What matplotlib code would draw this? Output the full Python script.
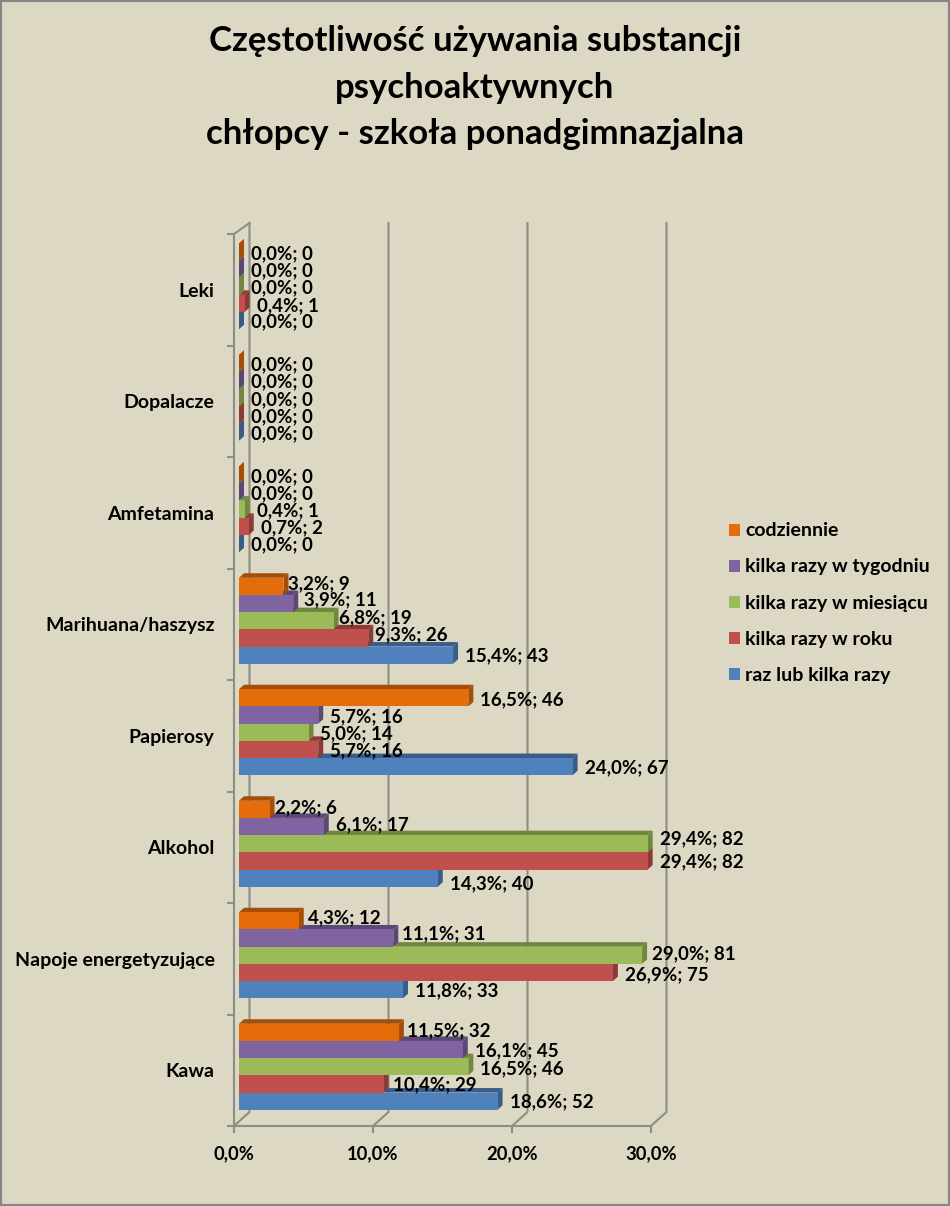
import numpy as np
import matplotlib
matplotlib.use('Agg')
import matplotlib.pyplot as plt
from matplotlib.colors import to_rgb
from matplotlib.patches import Rectangle

categories = ['Kawa', 'Napoje energetyzujące', 'Alkohol', 'Papierosy',
              'Marihuana/haszysz', 'Amfetamina', 'Dopalacze', 'Leki']
series_names = ['raz lub kilka razy', 'kilka razy w roku', 'kilka razy w miesiącu',
                'kilka razy w tygodniu', 'codziennie']
raz_pct = [18.6, 11.8, 14.3, 24.0, 15.4, 0.0, 0.0, 0.0]
raz_n = [52, 33, 40, 67, 43, 0, 0, 0]
rok_pct = [10.4, 26.9, 29.4, 5.7, 9.3, 0.7, 0.0, 0.4]
rok_n = [29, 75, 82, 16, 26, 2, 0, 1]
mies_pct = [16.5, 29.0, 29.4, 5.0, 6.8, 0.4, 0.0, 0.0]
mies_n = [46, 81, 82, 14, 19, 1, 0, 0]
tydz_pct = [16.1, 11.1, 6.1, 5.7, 3.9, 0.0, 0.0, 0.0]
tydz_n = [45, 31, 17, 16, 11, 0, 0, 0]
codz_pct = [11.5, 4.3, 2.2, 16.5, 3.2, 0.0, 0.0, 0.0]
codz_n = [32, 12, 6, 46, 9, 0, 0, 0]
colors = ['#4F81BD', '#C0504D', '#9BBB59', '#8064A2', '#E46C0A']
x_ticks = [0, 10, 20, 30]

pct = [raz_pct, rok_pct, mies_pct, tydz_pct, codz_pct]
counts = [raz_n, rok_n, mies_n, tydz_n, codz_n]

# label nudges in pixels, the original moved some labels apart
label_dx = [[7, 7, 7, 7, 7, 7, 7, 7],
            [4, 7, 7, 7, 2, 7, 7, 7],
            [7, 5, 7, 7, 0, 7, 7, 7],
            [7, 4, 7, 7, 6, 7, 7, 7],
            [3, 4, 0, 7, 0, 7, 7, 7]]
label_dy = [[-1, -1, -6, -1.5, -1, -1.5, -1.5, -1.5],
            [-1, -2, -1, -1.5, 3, -1.5, -1.5, -2],
            [-2, 2, 5, -1.5, 3, -1.5, -1.5, -2],
            [-1, 4, 2, -1.5, 4, -1.5, -1.5, -2],
            [2, 3, 2, -1.5, 3, -1.5, -1.5, -2]]

plt.rcParams['font.family'] = ['Lato', 'DejaVu Sans']
plt.rcParams['font.weight'] = 'bold'

BG = '#DDD8C3'
GREY = '#8E8E88'

fig = plt.figure(figsize=(9.5, 12.06), dpi=100, facecolor=BG)
fig.add_artist(Rectangle((0, 0), 1, 1, transform=fig.transFigure, fill=False,
                         edgecolor='#868686', linewidth=3, clip_on=True))

ax = fig.add_axes([234 / 950, (1206 - 1126) / 1206, (651 - 234) / 950, (1126 - 234) / 1206])
ax.set_facecolor('none')

# pixels to data units
px_x = 30 / (651 - 234)
px_y = 8 / (1126 - 234)

# walls
wall_dx = 15.5 * px_x
wall_dy = 14 * px_y
top_dy = 11 * px_y
for x in x_ticks:
    ax.plot([x, x + wall_dx, x + wall_dx], [0, wall_dy, 8 + top_dy], color=GREY, lw=1.5,
            clip_on=False, zorder=1)
ax.plot([0, wall_dx], [8, 8 + top_dy], color=GREY, lw=1.5, clip_on=False, zorder=1)

# bars, bottom series first so the upper bar covers the top face of the one below
bar_h = 17.2 * px_y
left = 5 * px_x
shift = 3.5 * px_y
depth_x = 5 * px_x
depth_y = 4.5 * px_y
y_base = np.arange(len(categories)) + 0.5 + shift

for j in range(len(series_names)):
    y = y_base + (j - 2) * bar_h
    vals = np.array(pct[j])
    dark = tuple(c * 0.72 for c in to_rgb(colors[j]))
    for i in range(len(categories)):
        x1 = left + vals[i]
        y0, y1 = y[i] - bar_h / 2, y[i] + bar_h / 2
        ax.fill([left, x1, x1 + depth_x, left + depth_x],
                [y1, y1, y1 + depth_y, y1 + depth_y],
                color=dark, lw=0, clip_on=False, zorder=2 + j)
        ax.fill([x1, x1 + depth_x, x1 + depth_x, x1],
                [y0, y0 + depth_y, y1 + depth_y, y1],
                color=dark, lw=0, clip_on=False, zorder=2 + j)
    ax.barh(y, vals, height=bar_h, left=left, color=colors[j], lw=0,
            label=series_names[j], zorder=2 + j, clip_on=False)
    for i in range(len(categories)):
        txt = ('%.1f%%; %d' % (vals[i], counts[j][i])).replace('.', ',')
        ax.annotate(txt, (left + vals[i] + depth_x, y[i]),
                    xytext=(label_dx[j][i], label_dy[j][i]),
                    textcoords='offset pixels', ha='left', va='center',
                    fontsize=13.5, fontweight='bold', color='black', zorder=20,
                    annotation_clip=False)

ax.set_xlim(0, 30)
ax.set_ylim(0, 8)
ax.set_xticks(x_ticks)
ax.set_xticklabels([('%.1f%%' % x).replace('.', ',') for x in x_ticks])
ax.set_yticks(np.arange(9))
ax.set_yticklabels([])
ax.set_yticks(np.arange(8) + 0.5, minor=True)
ax.set_yticklabels(categories, minor=True)
ax.tick_params(axis='y', which='major', length=5, width=1.5, color=GREY)
ax.tick_params(axis='y', which='minor', length=0, pad=14, labelsize=14)
ax.tick_params(axis='x', length=5, width=1.5, color=GREY, pad=9, labelsize=13.2)
for s in ['top', 'right']:
    ax.spines[s].set_visible(False)
for s in ['left', 'bottom']:
    ax.spines[s].set_color(GREY)
    ax.spines[s].set_linewidth(1.5)

fig.text(475 / 950, 1 - 87.5 / 1206,
         'Częstotliwość używania substancji\npsychoaktywnych\nchłopcy - szkoła ponadgimnazjalna',
         ha='center', va='center', fontsize=25, fontweight='bold', linespacing=1.56)

handles, labels = ax.get_legend_handles_labels()
fig.legend(handles[::-1], labels[::-1], loc='center left',
           bbox_to_anchor=(711.5 / 950, 1 - 603 / 1206), frameon=False, fontsize=14,
           handlelength=0.57, handleheight=0.57, handletextpad=0.26, labelspacing=0.98,
           labelcolor='black')

plt.savefig('out.png', dpi=100, facecolor=BG)
